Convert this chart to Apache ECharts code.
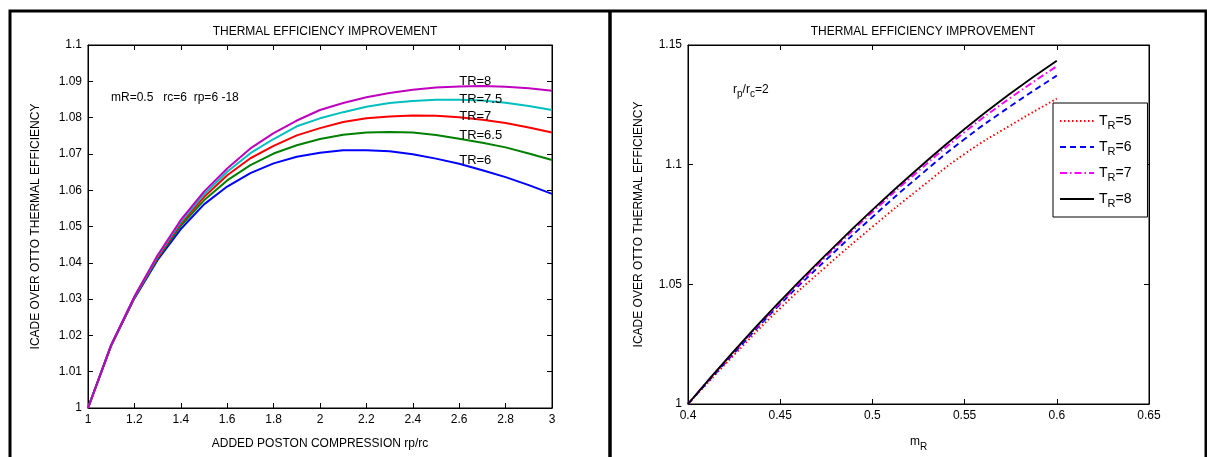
<!DOCTYPE html>
<html>
<head>
    <meta charset="utf-8">
    <title>thermal efficiency improvement</title>
    <script src="https://cdn.jsdelivr.net/npm/echarts@6/dist/echarts.min.js"></script>
    <style>
        html, body { margin: 0; padding: 0; background: #fff; }
        #main { width: 1207px; height: 457px; }
    </style>
</head>
<body>
<div id="main"></div>
<script>
    // left panel: efficiency ratio vs rp/rc
    var rpRc = [1, 1.1, 1.2, 1.3, 1.4, 1.5, 1.6, 1.7, 1.8, 1.9, 2, 2.1, 2.2, 2.3, 2.4, 2.5, 2.6, 2.7, 2.8, 2.9, 3];
    var tr6 = [1.0, 1.0172, 1.0302, 1.0408, 1.0493, 1.0561, 1.0610, 1.0647, 1.0674, 1.0692, 1.0703, 1.0710, 1.0710, 1.0707, 1.0699, 1.0687, 1.0673, 1.0655, 1.0636, 1.0614, 1.0590];
    var tr65 = [1.0, 1.0173, 1.0304, 1.0412, 1.0502, 1.0572, 1.0627, 1.0669, 1.0701, 1.0724, 1.0741, 1.0753, 1.0759, 1.0760, 1.0759, 1.0752, 1.0742, 1.0731, 1.0718, 1.0701, 1.0683];
    var tr7 = [1.0, 1.0173, 1.0305, 1.0415, 1.0509, 1.0581, 1.0641, 1.0688, 1.0722, 1.0751, 1.0771, 1.0788, 1.0798, 1.0803, 1.0806, 1.0805, 1.0801, 1.0794, 1.0785, 1.0773, 1.0759];
    var tr75 = [1.0, 1.0174, 1.0306, 1.0418, 1.0513, 1.0589, 1.0651, 1.0702, 1.0741, 1.0776, 1.0798, 1.0815, 1.0830, 1.0840, 1.0846, 1.0849, 1.0849, 1.0847, 1.0841, 1.0832, 1.0821];
    var tr8 = [1.0, 1.0174, 1.0307, 1.0421, 1.0518, 1.0596, 1.0660, 1.0715, 1.0757, 1.0792, 1.0821, 1.0840, 1.0856, 1.0868, 1.0877, 1.0883, 1.0886, 1.0887, 1.0885, 1.0881, 1.0874];
    var leftNames = ['TR=6', 'TR=6.5', 'TR=7', 'TR=7.5', 'TR=8'];
    var leftColors = ['#0000ff', '#008000', '#ff0000', '#00bfbf', '#bf00bf'];
    // where the curve labels sit (data coords)
    var labelX = [2.6, 2.6, 2.6, 2.6, 2.6];
    var labelY = [1.0683, 1.0752, 1.0802, 1.0851, 1.0900];

    // right panel: efficiency ratio vs mR, rp/rc = 2
    var mR = [0.4, 0.425, 0.45, 0.475, 0.5, 0.525, 0.55, 0.575, 0.6];
    var mr5 = [1.0, 1.0205, 1.0400, 1.0575, 1.0740, 1.0897, 1.1045, 1.1165, 1.1276];
    var mr6 = [1.0, 1.0213, 1.0417, 1.0603, 1.0781, 1.0950, 1.1107, 1.1245, 1.1372];
    var mr7 = [1.0, 1.0219, 1.0423, 1.0617, 1.0802, 1.0974, 1.1136, 1.1280, 1.1411];
    var mr8 = [1.0, 1.0222, 1.0430, 1.0625, 1.0811, 1.0985, 1.1149, 1.1298, 1.1434];
    var rightNames = ['TR=5', 'TR=6 ', 'TR=7 ', 'TR=8 '];

    var FONT = 'Liberation Sans';

    function pairs(xs, ys) {
        var out = [];
        for (var i = 0; i < xs.length; i++) out.push([xs[i], ys[i]]);
        return out;
    }

    var chart = echarts.init(document.getElementById('main'));

    var axisBase = function (gridIndex, min, max, interval, pos, labels) {
        return {
            type: 'value', gridIndex: gridIndex, min: min, max: max, interval: interval, position: pos,
            splitLine: { show: false },
            axisLine: { show: true, onZero: false, lineStyle: { color: '#000', width: 1 } },
            axisTick: { show: true, inside: true, length: 5, lineStyle: { color: '#000' } },
            axisLabel: { show: labels, color: '#000', fontFamily: FONT, fontSize: 12, margin: 6 }
        };
    };

    var xAxes = [
        axisBase(0, 1, 3, 0.2, 'bottom', true),
        axisBase(1, 0.4, 0.65, 0.05, 'bottom', true),
        axisBase(0, 1, 3, 0.2, 'top', false),
        axisBase(1, 0.4, 0.65, 0.05, 'top', false)
    ];
    xAxes[0].name = 'ADDED POSTON COMPRESSION rp/rc';
    xAxes[0].nameLocation = 'middle';
    xAxes[0].nameGap = 30;
    xAxes[0].nameTextStyle = { color: '#000', fontFamily: FONT, fontSize: 12 };
    xAxes[1].name = '{t|m}{s|R}';
    xAxes[1].nameLocation = 'middle';
    xAxes[1].nameGap = 28;
    xAxes[1].nameTextStyle = {
        color: '#000', fontFamily: FONT, fontSize: 12,
        rich: { t: { fontFamily: FONT, fontSize: 12, color: '#000' }, s: { fontFamily: FONT, fontSize: 10, color: '#000', padding: [10, 0, 0, 0] } }
    };

    var yAxes = [
        axisBase(0, 1, 1.1, 0.01, 'left', true),
        axisBase(1, 1, 1.15, 0.05, 'left', true),
        axisBase(0, 1, 1.1, 0.01, 'right', false),
        axisBase(1, 1, 1.15, 0.05, 'right', false)
    ];
    yAxes[0].name = 'ICADE OVER OTTO THERMAL EFFICIENCY';
    yAxes[0].nameLocation = 'middle';
    yAxes[0].nameGap = 46;
    yAxes[0].nameTextStyle = { color: '#000', fontFamily: FONT, fontSize: 12 };
    yAxes[1].name = 'ICADE OVER OTTO THERMAL EFFICIENCY';
    yAxes[1].nameLocation = 'middle';
    yAxes[1].nameGap = 43;
    yAxes[1].nameTextStyle = { color: '#000', fontFamily: FONT, fontSize: 12 };

    var series = [];
    var leftData = [tr6, tr65, tr7, tr75, tr8];
    for (var i = 0; i < leftData.length; i++) {
        series.push({
            name: leftNames[i] + ' (rp/rc)',
            type: 'line', xAxisIndex: 0, yAxisIndex: 0,
            data: pairs(rpRc, leftData[i]),
            symbol: 'none', smooth: false,
            lineStyle: { color: leftColors[i], width: 2 },
            itemStyle: { color: leftColors[i] },
            markPoint: {
                symbol: 'circle', symbolSize: 0, silent: true,
                label: { show: true, position: 'right', distance: 0, color: '#000', fontFamily: FONT, fontSize: 13, formatter: leftNames[i] },
                data: [{ coord: [labelX[i], labelY[i]] }]
            }
        });
    }

    var rightData = [mr5, mr6, mr7, mr8];
    var rightStyles = [
        { color: '#ff0000', type: [1.5, 2.5] },
        { color: '#0000ff', type: [6, 4] },
        { color: '#ff00ff', type: [7, 3, 1.5, 3] },
        { color: '#000000', type: 'solid' }
    ];
    for (var j = 0; j < rightData.length; j++) {
        series.push({
            name: rightNames[j],
            type: 'line', xAxisIndex: 1, yAxisIndex: 1,
            data: pairs(mR, rightData[j]),
            symbol: 'none', smooth: true,
            lineStyle: { color: rightStyles[j].color, width: 1.9, type: rightStyles[j].type },
            itemStyle: { color: rightStyles[j].color }
        });
    }

    var option = {
        animation: false,
        backgroundColor: '#fff',
        textStyle: { fontFamily: FONT },
        title: [
            { text: 'THERMAL EFFICIENCY IMPROVEMENT', left: 320, top: 21, textAlign: 'center',
              textStyle: { fontFamily: FONT, fontSize: 12, fontWeight: 'normal', color: '#000' } },
            { text: 'THERMAL EFFICIENCY IMPROVEMENT', left: 918, top: 21, textAlign: 'center',
              textStyle: { fontFamily: FONT, fontSize: 12, fontWeight: 'normal', color: '#000' } }
        ],
        grid: [
            { left: 88, top: 45, width: 464, height: 363, show: true, borderColor: '#000', borderWidth: 1, backgroundColor: '#fff' },
            { left: 688, top: 45, width: 461, height: 363, show: true, borderColor: '#000', borderWidth: 1, backgroundColor: '#fff' }
        ],
        xAxis: xAxes,
        yAxis: yAxes,
        legend: {
            data: rightNames,
            orient: 'vertical',
            left: 1053, top: 103,
            padding: [11, 16, 8, 6],
            itemWidth: 34, itemHeight: 14, itemGap: 9,
            borderColor: '#000', borderWidth: 1, backgroundColor: '#fff',
            selectedMode: false,
            itemStyle: { opacity: 0 },
            formatter: function (name) {
                return '{t|T}{s|R}{t|=' + name.trim().split('=')[1] + '}';
            },
            textStyle: {
                color: '#000', fontFamily: FONT, fontSize: 14,
                rich: {
                    t: { fontFamily: FONT, fontSize: 14, color: '#000' },
                    s: { fontFamily: FONT, fontSize: 11, color: '#000', padding: [9, 0, 0, 0] }
                }
            }
        },
        graphic: [
            { type: 'rect', silent: true, z: 100,
              shape: { x: 10, y: 11, width: 1196, height: 470 },
              style: { fill: 'none', stroke: '#000', lineWidth: 3 } },
            { type: 'line', silent: true, z: 100,
              shape: { x1: 610, y1: 11, x2: 610, y2: 470 },
              style: { stroke: '#000', lineWidth: 3.5 } },
            { type: 'text', silent: true, z: 100, left: 111, top: 92,
              style: { text: 'mR=0.5   rc=6  rp=6 -18', fill: '#000', font: '12px ' + FONT } },
            { type: 'text', silent: true, z: 100, left: 733, top: 84,
              style: {
                  text: '{t|r}{s|p}{t|/r}{s|c}{t|=2}', fill: '#000', font: '12px ' + FONT,
                  rich: {
                      t: { fontFamily: FONT, fontSize: 12, fill: '#000' },
                      s: { fontFamily: FONT, fontSize: 10, fill: '#000', padding: [9, 0, 0, 0] }
                  }
              } }
        ],
        series: series
    };

    chart.setOption(option);
</script>
</body>
</html>
